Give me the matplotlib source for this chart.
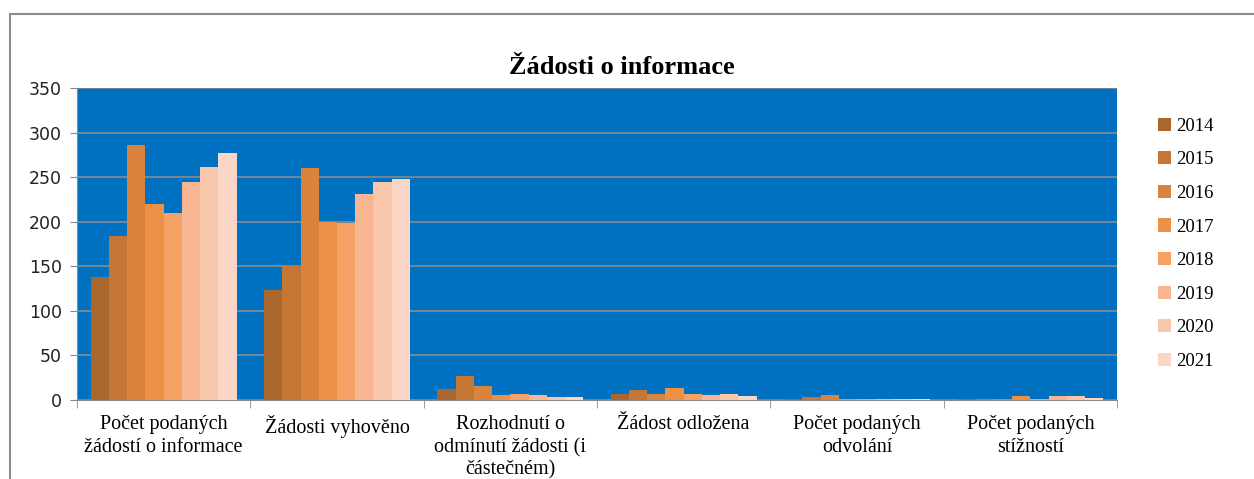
import numpy as np
import matplotlib
matplotlib.use("Agg")
import matplotlib.pyplot as plt
from matplotlib.patches import Rectangle

# Categories and yearly values
categories = ["Počet podaných\nžádostí o informace", "Žádosti vyhověno",
              "Rozhodnutí o\nodmínutí žádosti (i\nčástečném)", "Žádost odložena",
              "Počet podaných\nodvolání", "Počet podaných\nstížností"]
years = ["2014", "2015", "2016", "2017", "2018", "2019", "2020", "2021"]
v2014 = [138, 123, 12, 7, 1, 1]
v2015 = [184, 150, 27, 11, 3, 1]
v2016 = [286, 260, 16, 7, 6, 1]
v2017 = [220, 200, 6, 13, 1, 4]
v2018 = [210, 199, 7, 7, 1, 1]
v2019 = [244, 231, 6, 6, 1, 4]
v2020 = [261, 244, 3, 7, 1, 4]
v2021 = [277, 248, 3, 4, 1, 2]
series = [v2014, v2015, v2016, v2017, v2018, v2019, v2020, v2021]
colors = ["#A9672E", "#C47735", "#D9833E", "#EC9146", "#F5A064",
          "#F7B592", "#F8C6AB", "#F9D6C6"]

fig = plt.figure(figsize=(12.54, 4.79), dpi=100)
fig.patches.append(Rectangle((10 / 1254, -0.1), 1.2, (479 - 14) / 479 + 0.1,
                             transform=fig.transFigure, fill=False,
                             edgecolor="#8c8c8c", linewidth=1.5))
ax = fig.add_axes([77 / 1254, 79 / 479, 1040 / 1254, 312 / 479])
ax.set_facecolor("#0070C0")

x = np.arange(len(categories))
w = 1 / 9.5
for i, (vals, col) in enumerate(zip(series, colors)):
    ax.bar(x + (i - 3.5) * w, vals, w, color=col, label=years[i], zorder=3)

ax.set_xlim(-0.5, 5.5)
ax.set_ylim(0, 350)
ax.set_yticks(np.arange(0, 351, 50))
ax.yaxis.grid(True, color="#8a8a8a", linewidth=1.2, zorder=1)
ax.set_axisbelow(True)
ax.tick_params(axis="y", labelsize=12.5, length=5, color="#8a8a8a",
               labelcolor="#222222", pad=6)
for lbl in ax.get_yticklabels():
    lbl.set_family("DejaVu Sans")

ax.set_xticks(x)
ax.set_xticklabels(categories, family="Liberation Serif", fontsize=14.5,
                   linespacing=1.25, va="top")
ax.set_xticks(np.arange(-0.5, 5.6, 1), minor=True)
ax.tick_params(axis="x", which="major", length=0, pad=11)
ax.tick_params(axis="x", which="minor", length=6, color="#8a8a8a")

for s in ["top", "right"]:
    ax.spines[s].set_visible(False)
ax.spines["left"].set_color("#8a8a8a")
ax.spines["bottom"].set_color("#8a8a8a")

fig.text(622 / 1254, 1 - 67 / 479, "Žádosti o informace", ha="center",
         va="center", family="Liberation Serif", fontsize=19, weight="bold")

ax.legend(loc="upper left", bbox_to_anchor=(1150 / 1254, 1 - 110 / 479),
          bbox_transform=fig.transFigure, frameon=False,
          prop={"family": "Liberation Serif", "size": 13.5},
          handlelength=0.7, handleheight=0.7, handletextpad=0.3,
          labelspacing=0.88, borderaxespad=0)

fig.savefig("out.png", dpi=100)
